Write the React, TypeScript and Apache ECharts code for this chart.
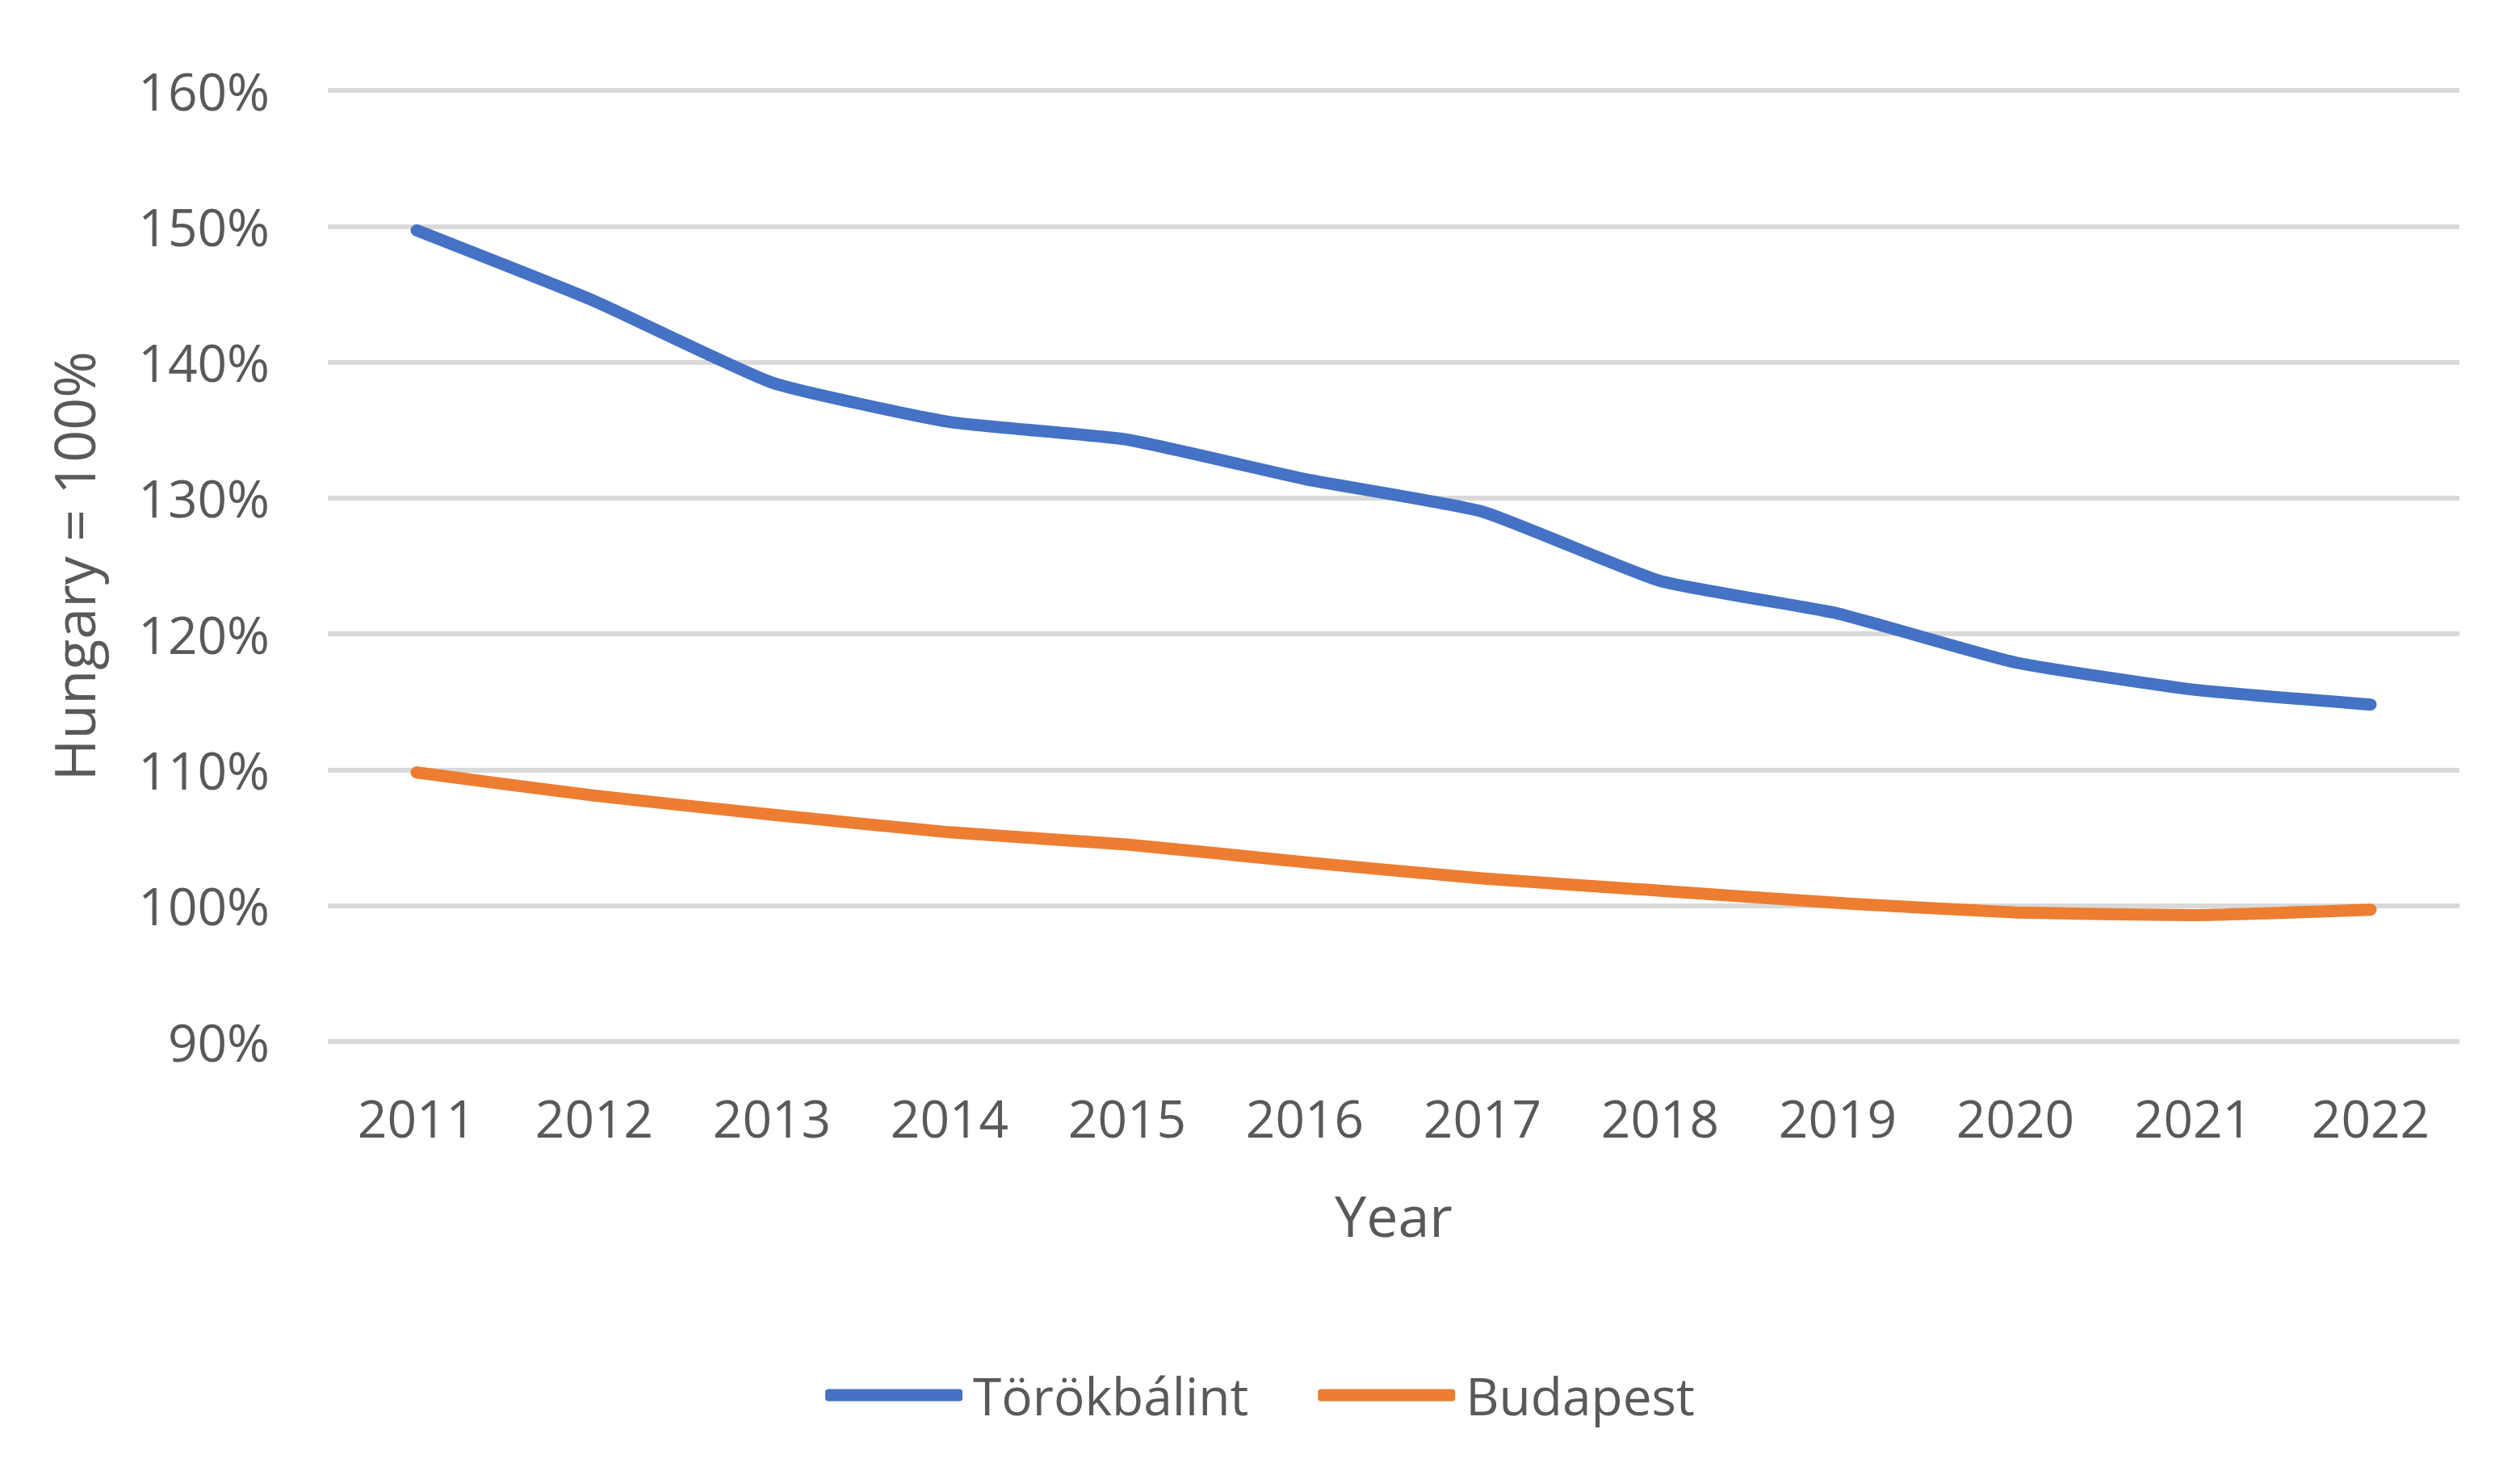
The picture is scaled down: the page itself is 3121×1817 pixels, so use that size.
import React, { useEffect, useRef } from "react";
import * as echarts from "echarts";

const years = ["2011", "2012", "2013", "2014", "2015", "2016", "2017", "2018", "2019", "2020", "2021", "2022"];
const torokbalint = [149.7, 144.5, 138.5, 135.6, 134.3, 131.4, 129.0, 123.9, 121.5, 117.9, 115.9, 114.8];
const budapest = [109.8, 108.1, 106.7, 105.4, 104.5, 103.2, 102.0, 101.1, 100.2, 99.5, 99.3, 99.7];
const seriesNames = ["Törökbálint", "Budapest"];
const colors = ["#4472C4", "#ED7D31"];

const FONT = "'Open Sans', 'Noto Sans', sans-serif";
const TXT = "#595959";

export default function App() {
  const ref = useRef<HTMLDivElement>(null);
  useEffect(() => {
    const chart = echarts.init(ref.current!, null, { renderer: "svg" });
    chart.setOption({
      animation: false,
      backgroundColor: "#ffffff",
      textStyle: { fontFamily: FONT, color: TXT },
      grid: { left: 406, right: 75, top: 112, bottom: 527, containLabel: false },
      legend: {
        bottom: 52,
        left: "center",
        itemWidth: 170,
        itemHeight: 15,
        itemGap: 86,
        icon: "roundRect",
        data: seriesNames,
        textStyle: { fontFamily: FONT, fontSize: 64, color: TXT, padding: [0, 0, 0, 8] },
      },
      xAxis: {
        type: "category",
        data: years,
        boundaryGap: true,
        name: "Year",
        nameLocation: "middle",
        nameGap: 180,
        nameTextStyle: { fontFamily: FONT, fontSize: 70, color: TXT },
        axisLine: { show: false },
        axisTick: { show: false },
        axisLabel: { fontFamily: FONT, fontSize: 64, color: TXT, margin: 62 },
      },
      yAxis: {
        type: "value",
        min: 90,
        max: 160,
        interval: 10,
        name: "Hungary = 100%",
        nameLocation: "middle",
        nameGap: 280,
        nameTextStyle: { fontFamily: FONT, fontSize: 70, color: TXT },
        axisLine: { show: false },
        axisTick: { show: false },
        axisLabel: { fontFamily: FONT, fontSize: 64, color: TXT, margin: 72, formatter: "{value}%" },
        splitLine: { lineStyle: { color: "#D9D9D9", width: 6 } },
      },
      series: [
        {
          name: seriesNames[0],
          type: "line",
          data: torokbalint,
          smooth: 0.15,
          showSymbol: false,
          lineStyle: { color: colors[0], width: 15, cap: "round", join: "round" },
          itemStyle: { color: colors[0] },
        },
        {
          name: seriesNames[1],
          type: "line",
          data: budapest,
          smooth: 0.15,
          showSymbol: false,
          lineStyle: { color: colors[1], width: 15, cap: "round", join: "round" },
          itemStyle: { color: colors[1] },
        },
      ],
    });
    return () => chart.dispose();
  }, []);
  return (
    <div
      ref={ref}
      style={{ position: "fixed", left: 0, top: 0, width: 3121, height: 1817, background: "#fff" }}
    />
  );
}
